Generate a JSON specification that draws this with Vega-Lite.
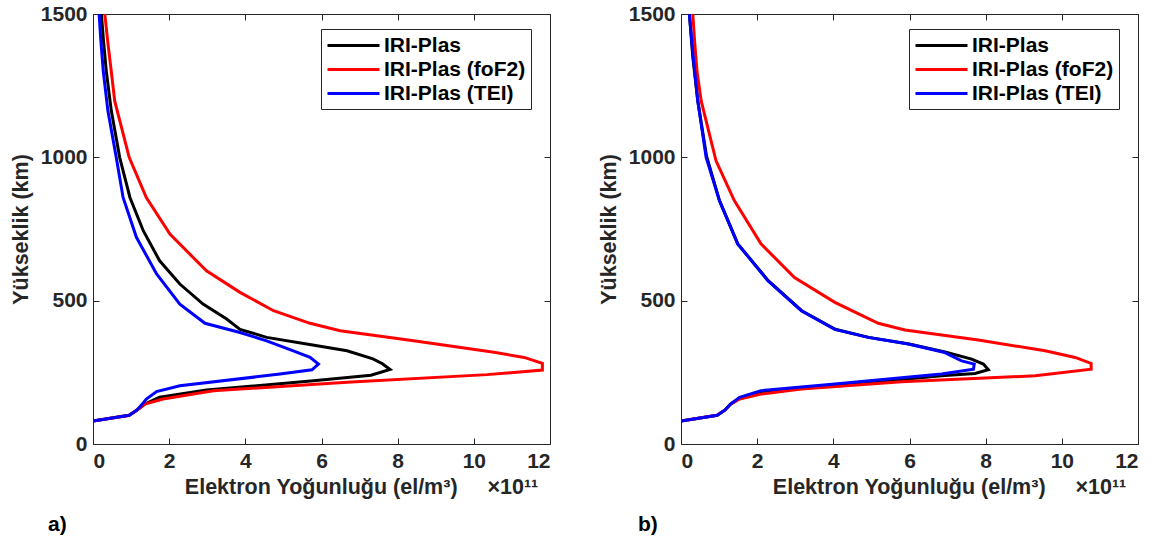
{
  "$schema": "https://vega.github.io/schema/vega-lite/v6.json",
  "background": "white",
  "padding": {"left": 9, "top": 2, "right": 5, "bottom": 0},
  "spacing": 46,
  "config": {
    "font": "Liberation Sans",
    "view": {"stroke": "#262626", "strokeWidth": 1},
    "axis": {
      "labelFont": "Liberation Sans", "labelFontWeight": "bold", "labelFontSize": 21, "labelColor": "#262626",
      "titleFont": "Liberation Sans", "titleFontWeight": "bold", "titleFontSize": 21.5, "titleColor": "#262626",
      "domain": false, "grid": false, "tickColor": "#262626", "tickSize": -6, "labelPadding": 12, "format": "d"
    },
    "legend": {
      "labelFont": "Liberation Sans", "labelFontWeight": "bold", "labelFontSize": 21, "labelColor": "#000000",
      "symbolType": "M-1,0H4.2", "symbolSize": 400, "symbolStrokeWidth": 3,
      "strokeColor": "#262626", "fillColor": "white", "padding": 5, "rowPadding": 2, "labelOffset": 35, "labelLimit": 300
    },
    "title": {"font": "Liberation Sans", "fontWeight": "bold", "fontSize": 21, "color": "#000000"}
  },
  "resolve": {"scale": {"color": "independent"}, "legend": {"color": "independent"}},
  "datasets": {
    "a": [
      {"s": "IRI-Plas", "x": 0, "h": 80}, {"s": "IRI-Plas", "x": 0.95, "h": 100}, {"s": "IRI-Plas", "x": 1.15, "h": 118},
      {"s": "IRI-Plas", "x": 1.36, "h": 139}, {"s": "IRI-Plas", "x": 1.75, "h": 163}, {"s": "IRI-Plas", "x": 2.98, "h": 188},
      {"s": "IRI-Plas", "x": 5.79, "h": 221}, {"s": "IRI-Plas", "x": 7.3, "h": 240}, {"s": "IRI-Plas", "x": 7.8, "h": 260},
      {"s": "IRI-Plas", "x": 7.6, "h": 280}, {"s": "IRI-Plas", "x": 7.35, "h": 297}, {"s": "IRI-Plas", "x": 6.67, "h": 325},
      {"s": "IRI-Plas", "x": 5.61, "h": 349}, {"s": "IRI-Plas", "x": 4.56, "h": 372}, {"s": "IRI-Plas", "x": 3.86, "h": 400},
      {"s": "IRI-Plas", "x": 3.51, "h": 436}, {"s": "IRI-Plas", "x": 2.89, "h": 488}, {"s": "IRI-Plas", "x": 2.28, "h": 558},
      {"s": "IRI-Plas", "x": 1.75, "h": 639}, {"s": "IRI-Plas", "x": 1.32, "h": 744}, {"s": "IRI-Plas", "x": 0.97, "h": 860},
      {"s": "IRI-Plas", "x": 0.70, "h": 1000}, {"s": "IRI-Plas", "x": 0.48, "h": 1163}, {"s": "IRI-Plas", "x": 0.35, "h": 1300},
      {"s": "IRI-Plas", "x": 0.28, "h": 1400}, {"s": "IRI-Plas", "x": 0.22, "h": 1500},
      {"s": "IRI-Plas (foF2)", "x": 0, "h": 80}, {"s": "IRI-Plas (foF2)", "x": 0.95, "h": 100}, {"s": "IRI-Plas (foF2)", "x": 1.15, "h": 118},
      {"s": "IRI-Plas (foF2)", "x": 1.36, "h": 139}, {"s": "IRI-Plas (foF2)", "x": 1.84, "h": 157}, {"s": "IRI-Plas (foF2)", "x": 3.16, "h": 186},
      {"s": "IRI-Plas (foF2)", "x": 6.67, "h": 215}, {"s": "IRI-Plas (foF2)", "x": 10.35, "h": 242}, {"s": "IRI-Plas (foF2)", "x": 11.8, "h": 258},
      {"s": "IRI-Plas (foF2)", "x": 11.8, "h": 281}, {"s": "IRI-Plas (foF2)", "x": 11.32, "h": 302}, {"s": "IRI-Plas (foF2)", "x": 10.53, "h": 320},
      {"s": "IRI-Plas (foF2)", "x": 8.42, "h": 360}, {"s": "IRI-Plas (foF2)", "x": 6.49, "h": 395}, {"s": "IRI-Plas (foF2)", "x": 5.70, "h": 421},
      {"s": "IRI-Plas (foF2)", "x": 4.74, "h": 465}, {"s": "IRI-Plas (foF2)", "x": 3.86, "h": 529}, {"s": "IRI-Plas (foF2)", "x": 2.98, "h": 604},
      {"s": "IRI-Plas (foF2)", "x": 2.02, "h": 732}, {"s": "IRI-Plas (foF2)", "x": 1.40, "h": 860}, {"s": "IRI-Plas (foF2)", "x": 0.95, "h": 1000},
      {"s": "IRI-Plas (foF2)", "x": 0.57, "h": 1197}, {"s": "IRI-Plas (foF2)", "x": 0.48, "h": 1300}, {"s": "IRI-Plas (foF2)", "x": 0.39, "h": 1400},
      {"s": "IRI-Plas (foF2)", "x": 0.31, "h": 1500},
      {"s": "IRI-Plas (TEI)", "x": 0, "h": 80}, {"s": "IRI-Plas (TEI)", "x": 0.95, "h": 100}, {"s": "IRI-Plas (TEI)", "x": 1.15, "h": 118},
      {"s": "IRI-Plas (TEI)", "x": 1.3, "h": 140}, {"s": "IRI-Plas (TEI)", "x": 1.40, "h": 157}, {"s": "IRI-Plas (TEI)", "x": 1.67, "h": 183},
      {"s": "IRI-Plas (TEI)", "x": 2.28, "h": 203}, {"s": "IRI-Plas (TEI)", "x": 4.91, "h": 244}, {"s": "IRI-Plas (TEI)", "x": 5.75, "h": 259},
      {"s": "IRI-Plas (TEI)", "x": 5.92, "h": 279}, {"s": "IRI-Plas (TEI)", "x": 5.70, "h": 302}, {"s": "IRI-Plas (TEI)", "x": 5.26, "h": 325},
      {"s": "IRI-Plas (TEI)", "x": 4.56, "h": 360}, {"s": "IRI-Plas (TEI)", "x": 3.86, "h": 389}, {"s": "IRI-Plas (TEI)", "x": 2.94, "h": 421},
      {"s": "IRI-Plas (TEI)", "x": 2.28, "h": 488}, {"s": "IRI-Plas (TEI)", "x": 1.67, "h": 593}, {"s": "IRI-Plas (TEI)", "x": 1.14, "h": 721},
      {"s": "IRI-Plas (TEI)", "x": 0.79, "h": 860}, {"s": "IRI-Plas (TEI)", "x": 0.61, "h": 1000}, {"s": "IRI-Plas (TEI)", "x": 0.39, "h": 1163},
      {"s": "IRI-Plas (TEI)", "x": 0.27, "h": 1300}, {"s": "IRI-Plas (TEI)", "x": 0.21, "h": 1400}, {"s": "IRI-Plas (TEI)", "x": 0.16, "h": 1500}
    ],
    "b": [
      {"s": "IRI-Plas", "x": 0, "h": 80}, {"s": "IRI-Plas", "x": 0.95, "h": 100}, {"s": "IRI-Plas", "x": 1.15, "h": 118},
      {"s": "IRI-Plas", "x": 1.3, "h": 139}, {"s": "IRI-Plas", "x": 1.54, "h": 160}, {"s": "IRI-Plas", "x": 2.1, "h": 183},
      {"s": "IRI-Plas", "x": 4.04, "h": 203}, {"s": "IRI-Plas", "x": 6.84, "h": 238}, {"s": "IRI-Plas", "x": 7.72, "h": 246},
      {"s": "IRI-Plas", "x": 8.07, "h": 259}, {"s": "IRI-Plas", "x": 7.94, "h": 279}, {"s": "IRI-Plas", "x": 7.63, "h": 296},
      {"s": "IRI-Plas", "x": 6.96, "h": 320}, {"s": "IRI-Plas", "x": 5.99, "h": 349}, {"s": "IRI-Plas", "x": 4.93, "h": 372},
      {"s": "IRI-Plas", "x": 4.05, "h": 400}, {"s": "IRI-Plas", "x": 3.17, "h": 465}, {"s": "IRI-Plas", "x": 2.29, "h": 570},
      {"s": "IRI-Plas", "x": 1.49, "h": 698}, {"s": "IRI-Plas", "x": 1.01, "h": 849}, {"s": "IRI-Plas", "x": 0.67, "h": 1005},
      {"s": "IRI-Plas", "x": 0.44, "h": 1197}, {"s": "IRI-Plas", "x": 0.31, "h": 1350}, {"s": "IRI-Plas", "x": 0.22, "h": 1500},
      {"s": "IRI-Plas (foF2)", "x": 0, "h": 80}, {"s": "IRI-Plas (foF2)", "x": 0.95, "h": 100}, {"s": "IRI-Plas (foF2)", "x": 1.15, "h": 118},
      {"s": "IRI-Plas (foF2)", "x": 1.3, "h": 139}, {"s": "IRI-Plas (foF2)", "x": 1.54, "h": 157}, {"s": "IRI-Plas (foF2)", "x": 2.1, "h": 174},
      {"s": "IRI-Plas (foF2)", "x": 3.16, "h": 192}, {"s": "IRI-Plas (foF2)", "x": 5.79, "h": 217}, {"s": "IRI-Plas (foF2)", "x": 9.3, "h": 238},
      {"s": "IRI-Plas (foF2)", "x": 10.77, "h": 261}, {"s": "IRI-Plas (foF2)", "x": 10.77, "h": 281}, {"s": "IRI-Plas (foF2)", "x": 10.35, "h": 302},
      {"s": "IRI-Plas (foF2)", "x": 9.56, "h": 325}, {"s": "IRI-Plas (foF2)", "x": 7.81, "h": 363}, {"s": "IRI-Plas (foF2)", "x": 5.88, "h": 398},
      {"s": "IRI-Plas (foF2)", "x": 5.18, "h": 421}, {"s": "IRI-Plas (foF2)", "x": 4.04, "h": 494}, {"s": "IRI-Plas (foF2)", "x": 2.98, "h": 581},
      {"s": "IRI-Plas (foF2)", "x": 2.1, "h": 698}, {"s": "IRI-Plas (foF2)", "x": 1.40, "h": 849}, {"s": "IRI-Plas (foF2)", "x": 0.92, "h": 988},
      {"s": "IRI-Plas (foF2)", "x": 0.53, "h": 1197}, {"s": "IRI-Plas (foF2)", "x": 0.42, "h": 1300}, {"s": "IRI-Plas (foF2)", "x": 0.36, "h": 1400},
      {"s": "IRI-Plas (foF2)", "x": 0.31, "h": 1500},
      {"s": "IRI-Plas (TEI)", "x": 0, "h": 80}, {"s": "IRI-Plas (TEI)", "x": 0.95, "h": 100}, {"s": "IRI-Plas (TEI)", "x": 1.15, "h": 118},
      {"s": "IRI-Plas (TEI)", "x": 1.3, "h": 139}, {"s": "IRI-Plas (TEI)", "x": 1.54, "h": 163}, {"s": "IRI-Plas (TEI)", "x": 2.1, "h": 186},
      {"s": "IRI-Plas (TEI)", "x": 4.04, "h": 209}, {"s": "IRI-Plas (TEI)", "x": 6.84, "h": 244}, {"s": "IRI-Plas (TEI)", "x": 7.68, "h": 261},
      {"s": "IRI-Plas (TEI)", "x": 7.70, "h": 279}, {"s": "IRI-Plas (TEI)", "x": 7.37, "h": 290}, {"s": "IRI-Plas (TEI)", "x": 6.90, "h": 320},
      {"s": "IRI-Plas (TEI)", "x": 5.97, "h": 349}, {"s": "IRI-Plas (TEI)", "x": 4.91, "h": 372}, {"s": "IRI-Plas (TEI)", "x": 4.04, "h": 400},
      {"s": "IRI-Plas (TEI)", "x": 3.16, "h": 465}, {"s": "IRI-Plas (TEI)", "x": 2.28, "h": 570}, {"s": "IRI-Plas (TEI)", "x": 1.49, "h": 698},
      {"s": "IRI-Plas (TEI)", "x": 1.01, "h": 849}, {"s": "IRI-Plas (TEI)", "x": 0.66, "h": 1000}, {"s": "IRI-Plas (TEI)", "x": 0.44, "h": 1197},
      {"s": "IRI-Plas (TEI)", "x": 0.32, "h": 1350}, {"s": "IRI-Plas (TEI)", "x": 0.22, "h": 1500}
    ]
  },
  "hconcat": [
    {
      "width": 457, "height": 430,
      "data": {"name": "a"},
      "title": {"text": "a)", "orient": "bottom", "anchor": "start", "frame": "group", "dx": -45, "offset": 16},
      "resolve": {"axis": {"x": "independent", "y": "independent"}},
      "layer": [
        {
          "transform": [{"filter": "datum.s === 'IRI-Plas'"}],
          "mark": {"type": "line", "strokeWidth": 3, "clip": true},
          "encoding": {
            "x": {"field": "x", "type": "quantitative", "scale": {"domain": [0, 12], "nice": false},
              "axis": {"orient": "bottom", "values": [0, 2, 4, 6, 8, 10, 12], "title": "Elektron Yoğunluğu (el/m³)\u00a0\u00a0\u00a0\u00a0\u00a0×10¹¹", "titleX": 268, "titlePadding": 5}},
            "y": {"field": "h", "type": "quantitative", "scale": {"domain": [0, 1500], "nice": false},
              "axis": {"orient": "left", "values": [0, 500, 1000, 1500], "title": "Yükseklik (km)", "titlePadding": 8}},
            "order": {"field": "h", "type": "quantitative"},
            "color": {"field": "s", "type": "nominal",
              "scale": {"domain": ["IRI-Plas", "IRI-Plas (foF2)", "IRI-Plas (TEI)"], "range": ["#000000", "#ff0000", "#0000ff"]},
              "legend": {"title": null, "orient": "none", "legendX": 228, "legendY": 15}}
          }
        },
        {
          "transform": [{"filter": "datum.s === 'IRI-Plas (foF2)'"}],
          "mark": {"type": "line", "strokeWidth": 3, "clip": true},
          "encoding": {
            "x": {"field": "x", "type": "quantitative", "axis": null},
            "y": {"field": "h", "type": "quantitative", "axis": null},
            "order": {"field": "h", "type": "quantitative"},
            "color": {"field": "s", "type": "nominal"}
          }
        },
        {
          "transform": [{"filter": "datum.s === 'IRI-Plas (TEI)'"}],
          "mark": {"type": "line", "strokeWidth": 3, "clip": true},
          "encoding": {
            "x": {"field": "x", "type": "quantitative", "axis": {"orient": "top", "values": [0, 2, 4, 6, 8, 10, 12], "labels": false, "title": null}},
            "y": {"field": "h", "type": "quantitative", "axis": {"orient": "right", "values": [0, 500, 1000, 1500], "labels": false, "title": null}},
            "order": {"field": "h", "type": "quantitative"},
            "color": {"field": "s", "type": "nominal"}
          }
        }
      ]
    },
    {
      "width": 457, "height": 430,
      "data": {"name": "b"},
      "title": {"text": "b)", "orient": "bottom", "anchor": "start", "frame": "group", "dx": -43, "offset": 16},
      "resolve": {"axis": {"x": "independent", "y": "independent"}},
      "layer": [
        {
          "transform": [{"filter": "datum.s === 'IRI-Plas'"}],
          "mark": {"type": "line", "strokeWidth": 3, "clip": true},
          "encoding": {
            "x": {"field": "x", "type": "quantitative", "scale": {"domain": [0, 12], "nice": false},
              "axis": {"orient": "bottom", "values": [0, 2, 4, 6, 8, 10, 12], "title": "Elektron Yoğunluğu (el/m³)\u00a0\u00a0\u00a0\u00a0\u00a0×10¹¹", "titleX": 268, "titlePadding": 5}},
            "y": {"field": "h", "type": "quantitative", "scale": {"domain": [0, 1500], "nice": false},
              "axis": {"orient": "left", "values": [0, 500, 1000, 1500], "title": "Yükseklik (km)", "titlePadding": 8}},
            "order": {"field": "h", "type": "quantitative"},
            "color": {"field": "s", "type": "nominal",
              "scale": {"domain": ["IRI-Plas", "IRI-Plas (foF2)", "IRI-Plas (TEI)"], "range": ["#000000", "#ff0000", "#0000ff"]},
              "legend": {"title": null, "orient": "none", "legendX": 228, "legendY": 15}}
          }
        },
        {
          "transform": [{"filter": "datum.s === 'IRI-Plas (foF2)'"}],
          "mark": {"type": "line", "strokeWidth": 3, "clip": true},
          "encoding": {
            "x": {"field": "x", "type": "quantitative", "axis": null},
            "y": {"field": "h", "type": "quantitative", "axis": null},
            "order": {"field": "h", "type": "quantitative"},
            "color": {"field": "s", "type": "nominal"}
          }
        },
        {
          "transform": [{"filter": "datum.s === 'IRI-Plas (TEI)'"}],
          "mark": {"type": "line", "strokeWidth": 3, "clip": true},
          "encoding": {
            "x": {"field": "x", "type": "quantitative", "axis": {"orient": "top", "values": [0, 2, 4, 6, 8, 10, 12], "labels": false, "title": null}},
            "y": {"field": "h", "type": "quantitative", "axis": {"orient": "right", "values": [0, 500, 1000, 1500], "labels": false, "title": null}},
            "order": {"field": "h", "type": "quantitative"},
            "color": {"field": "s", "type": "nominal"}
          }
        }
      ]
    }
  ]
}
